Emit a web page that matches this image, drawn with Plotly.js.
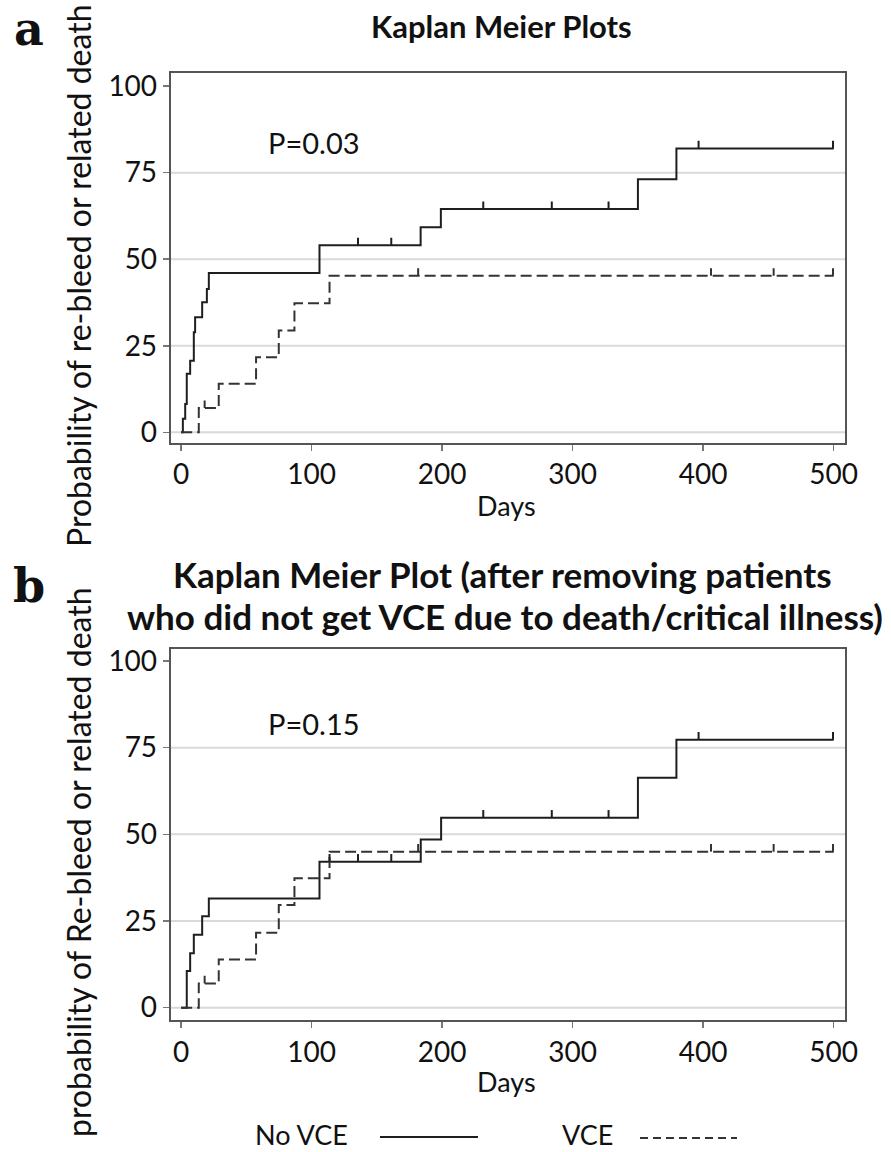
<!DOCTYPE html>
<html>
<head>
<meta charset="utf-8">
<script src="https://cdn.plot.ly/plotly-3.0.1.min.js"></script>
<style>html,body{margin:0;padding:0;background:#fff;}#chart{width:891px;height:1152px;}</style>
</head>
<body>
<div id="chart"></div>
<script>
// ---------- data ----------
const followUpEnd = 500;
const xTickVals = [0, 100, 200, 300, 400, 500];
const yTickVals = [0, 25, 50, 75, 100];
const gridVals = [0, 25, 50, 75];

// Panel a
const aNoVceDays = [0, 1.3, 3.1, 4.3, 6.9, 9.7, 10.7, 16.1, 19.7, 21.2, 106, 183.5, 199, 350, 379.5];
const aNoVceProb = [0, 3.9, 8.2, 16.9, 20.7, 28.9, 33.2, 37.6, 41.4, 46.0, 54.0, 59.2, 64.5, 73.1, 82.0];
const aNoVceCensor = [135.5, 161, 231.5, 284, 327.5, 396.5, 499.5];
const aVceDays = [0, 13.5, 28.8, 57.4, 74.8, 86.8, 113.7];
const aVceProb = [0, 7.0, 14.0, 21.7, 29.4, 37.3, 45.2];
const aVceCensor = [18, 181.6, 406, 454, 499.5];

// Panel b
const bNoVceDays = [0, 4.3, 6.9, 9.7, 16.1, 21.2, 106, 183.6, 199.2, 350, 379.5];
const bNoVceProb = [0, 10.6, 15.7, 21.0, 26.4, 31.5, 42.1, 48.5, 54.8, 66.3, 77.3];
const bNoVceCensor = [113.7, 135.5, 161, 231.5, 284, 327.5, 396.5, 499.5];
const bVceDays = [0, 13.5, 28.8, 57.4, 74.8, 86.8, 113.7];
const bVceProb = [0, 7.0, 13.9, 21.6, 29.6, 37.3, 45.0];
const bVceCensor = [18, 181.6, 406, 454, 499.5];

// ---------- helpers ----------
const solidColor = '#1e1e1e';
const dashColor = '#333333';
const dashStyle = '11px,5px';
const tickH = 2.2;

function stepTrace(days, prob, xa, ya, dashed) {
  return {
    x: days.concat([followUpEnd]),
    y: prob.concat([prob[prob.length - 1]]),
    xaxis: xa, yaxis: ya, mode: 'lines', type: 'scatter',
    line: {shape: 'hv', color: dashed ? dashColor : solidColor, width: 2, dash: dashed ? dashStyle : 'solid'},
    hoverinfo: 'skip', showlegend: false
  };
}
function valueAt(days, prob, t) {
  let v = prob[0];
  for (let i = 0; i < days.length; i++) if (days[i] <= t) v = prob[i];
  return v;
}
function censorTrace(days, prob, censor, xa, ya, dashed) {
  const x = [], y = [];
  censor.forEach(t => { const v = valueAt(days, prob, t); x.push(t, t, null); y.push(v, v + tickH, null); });
  return {x, y, xaxis: xa, yaxis: ya, mode: 'lines', type: 'scatter',
    line: {color: dashed ? dashColor : solidColor, width: 2}, hoverinfo: 'skip', showlegend: false};
}

const traces = [
  stepTrace(aNoVceDays, aNoVceProb, 'x', 'y', false),
  stepTrace(aVceDays, aVceProb, 'x', 'y', true),
  censorTrace(aNoVceDays, aNoVceProb, aNoVceCensor, 'x', 'y', false),
  censorTrace(aVceDays, aVceProb, aVceCensor, 'x', 'y', true),
  stepTrace(bNoVceDays, bNoVceProb, 'x2', 'y2', false),
  stepTrace(bVceDays, bVceProb, 'x2', 'y2', true),
  censorTrace(bNoVceDays, bNoVceProb, bNoVceCensor, 'x2', 'y2', false),
  censorTrace(bVceDays, bVceProb, bVceCensor, 'x2', 'y2', true)
];

const FONT = 'Lato, "Open Sans", sans-serif';
const tickFont = {family: FONT, size: 28, color: '#111'};

function xAxis(anchor) {
  return {domain: [0.1916, 0.9484], anchor: anchor, range: [-8, 508.7],
    tickmode: 'array', tickvals: xTickVals, ticktext: xTickVals.map(String),
    ticks: 'outside', ticklen: 6, tickwidth: 1.5, tickcolor: '#777',
    showgrid: false, zeroline: false, showline: true, linecolor: '#555', linewidth: 2, mirror: true,
    tickfont: tickFont, fixedrange: true};
}
function yAxis(anchor, domain, range) {
  return {domain: domain, anchor: anchor, range: range,
    tickmode: 'array', tickvals: yTickVals, ticktext: yTickVals.map(String),
    ticks: 'outside', ticklen: 6, tickwidth: 1.5, tickcolor: '#777',
    showgrid: false, zeroline: false, showline: true, linecolor: '#555', linewidth: 2, mirror: true,
    tickfont: tickFont, fixedrange: true};
}

const shapes = [];
gridVals.forEach(g => {
  shapes.push({type: 'line', xref: 'x domain', yref: 'y', x0: 0, x1: 1, y0: g, y1: g, layer: 'below', line: {color: '#d9d9d9', width: 2}});
  shapes.push({type: 'line', xref: 'x2 domain', yref: 'y2', x0: 0, x1: 1, y0: g, y1: g, layer: 'below', line: {color: '#d9d9d9', width: 2}});
});
// legend samples
shapes.push({type: 'line', xref: 'paper', yref: 'paper', x0: 380/891, x1: 478/891, y0: 1 - 1137/1152, y1: 1 - 1137/1152, line: {color: solidColor, width: 2}});
shapes.push({type: 'line', xref: 'paper', yref: 'paper', x0: 640/891, x1: 737/891, y0: 1 - 1138/1152, y1: 1 - 1138/1152, line: {color: dashColor, width: 2, dash: '8px,5px'}});

function px(xp, yp) { return {x: xp/891, y: 1 - yp/1152}; }
function ann(text, xp, yp, size, opts) {
  const p = px(xp, yp);
  return Object.assign({text: text, xref: 'paper', yref: 'paper', x: p.x, y: p.y, xanchor: 'center', yanchor: 'middle',
    showarrow: false, borderpad: 0, font: {family: FONT, size: size, color: '#111'}}, opts || {});
}

const annotations = [
  ann('<b>a</b>', 29, 29, 46, {font: {family: '"DejaVu Serif", serif', size: 46, color: '#111'}}),
  ann('<b>b</b>', 29, 586, 46, {font: {family: '"DejaVu Serif", serif', size: 46, color: '#111'}}),
  ann('<b>Kaplan Meier Plots</b>', 501, 26, 31),
  ann('<b>Kaplan Meier Plot (after removing patients</b>', 502, 574, 35),
  ann('<b>who did not get VCE due to death/critical illness)</b>', 505, 616, 35),
  ann('Probability of re-bleed or related death', 78, 276, 32, {textangle: -90}),
  ann('probability of Re-bleed or related death', 78, 862, 32, {textangle: -90}),
  ann('P=0.03', 314, 143, 29),
  ann('P=0.15', 314, 723, 29),
  ann('Days', 507, 505, 27),
  ann('Days', 507, 1081, 27),
  ann('No VCE', 301, 1134, 27),
  ann('VCE', 587, 1134, 27)
];

const layout = {
  width: 891, height: 1152, margin: {l: 0, r: 0, t: 0, b: 0},
  paper_bgcolor: '#ffffff', plot_bgcolor: '#ffffff', showlegend: false,
  xaxis: xAxis('y'), yaxis: yAxis('x', [0.6157, 0.9364], [-3.0, 103.7]),
  xaxis2: xAxis('y2'), yaxis2: yAxis('x2', [0.1146, 0.4362], [-3.55, 103.3]),
  shapes: shapes, annotations: annotations,
  font: {family: FONT}
};

Plotly.newPlot('chart', traces, layout, {staticPlot: true, displayModeBar: false});
</script>
</body>
</html>
